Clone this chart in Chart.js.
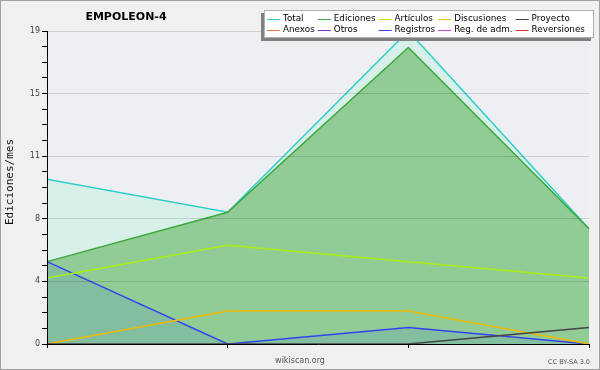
<!DOCTYPE html>
<html>
<head>
<meta charset="utf-8">
<script src="https://cdn.jsdelivr.net/npm/chart.js@4"></script>
<style>
  body { margin: 0; background: #f0f0f0; }
  canvas { display: block; }
</style>
</head>
<body>
<canvas id="chart" width="600" height="370"></canvas>
<script>
// months shown on the x axis (labels are not printed in the picture)
const months = ['mes 1', 'mes 2', 'mes 3', 'mes 4'];

const total = [10, 8, 19, 7];
const ediciones = [5, 8, 18, 7];
const articulos = [4, 6, 5, 4];
const discusiones = [0, 2, 2, 0];
const proyecto = [0, 0, 0, 1];
const anexos = [null, null, null, null];
const otros = [null, null, null, null];
const registros = [5, 0, 1, 0];
const regAdm = [null, null, null, null];
const reversiones = [null, null, null, null];

const yMax = 19;
const yTickLabels = ['0', '4', '8', '11', '15', '19'];

const SANS = "'DejaVu Sans', sans-serif";

function line(label, data, color, order, fill) {
    return {
        label: label,
        data: data,
        borderColor: color,
        backgroundColor: fill || 'rgba(0,0,0,0)',
        fill: fill ? 'origin' : false,
        borderWidth: 1.5,
        pointRadius: 0,
        tension: 0,
        order: order
    };
}

const datasets = [
    line('Total', total, '#2fcfc8', 10, '#d9f0ea'),
    line('Ediciones', ediciones, '#3aaa3a', 9, '#91cb96'),
    line('Artículos', articulos, '#aaee11', 7),
    line('Discusiones', discusiones, '#f0b800', 6),
    line('Proyecto', proyecto, '#444444', 5),
    line('Anexos', anexos, '#ee7733', 4),
    line('Otros', otros, '#7733cc', 3),
    line('Registros', registros, '#3344ee', 8, 'rgba(40,100,240,0.12)'),
    line('Reg. de adm.', regAdm, '#cc44dd', 2),
    line('Reversiones', reversiones, '#dd3333', 1)
];

// backgrounds, title, footer texts and the boxed legend
const decor = {
    id: 'decor',
    beforeDraw(chart) {
        const c = chart.ctx, a = chart.chartArea;
        c.save();
        c.fillStyle = '#f0f0f0';
        c.fillRect(0, 0, chart.width, chart.height);
        c.fillStyle = '#eeeff2';
        c.fillRect(a.left, a.top, a.right - a.left, a.bottom - a.top);
        c.restore();
    },
    afterDraw(chart) {
        const c = chart.ctx;
        c.save();
        c.strokeStyle = '#a0a0a0';
        c.lineWidth = 1;
        c.strokeRect(0.5, 0.5, chart.width - 1, chart.height - 1);

        c.fillStyle = '#000';
        c.font = 'bold 11px ' + SANS;
        c.textAlign = 'center';
        c.textBaseline = 'middle';
        c.fillText('EMPOLEON-4', 126, 17);

        c.save();
        c.translate(10, 182);
        c.rotate(-Math.PI / 2);
        c.font = "11px 'DejaVu Sans Mono', monospace";
        c.fillStyle = '#111';
        c.fillText('Ediciones/mes', 0, 0);
        c.restore();

        c.fillStyle = '#555';
        c.font = '8px ' + SANS;
        c.fillText('wikiscan.org', 300, 361);
        c.textAlign = 'right';
        c.font = '6.5px ' + SANS;
        c.fillText('CC BY-SA 3.0', 590, 362);

        // legend box
        const bx = 264, by = 10, bw = 330, bh = 28;
        c.fillStyle = '#808080';
        c.fillRect(bx - 3, by + 3, bw, bh);
        c.fillStyle = '#fff';
        c.fillRect(bx, by, bw, bh);
        c.strokeStyle = '#b0b0b0';
        c.strokeRect(bx + 0.5, by + 0.5, bw - 1, bh - 1);

        c.font = '8.8px ' + SANS;
        c.textAlign = 'left';
        const ds = chart.data.datasets;
        const cols = 5;
        let x = bx + 3;
        for (let col = 0; col < cols; col++) {
            let w = 0;
            for (let row = 0; row < 2; row++) {
                const d = ds[row * cols + col];
                const y = by + 9 + row * 10.5;
                c.strokeStyle = d.borderColor;
                c.lineWidth = 1;
                c.beginPath();
                c.moveTo(x, Math.round(y) + 0.5);
                c.lineTo(x + 13, Math.round(y) + 0.5);
                c.stroke();
                c.fillStyle = '#000';
                c.fillText(d.label, x + 16, y);
                w = Math.max(w, c.measureText(d.label).width);
            }
            x += 16 + w + 3;
        }
        c.restore();
    }
};

const config = {
    type: 'line',
    data: { labels: months, datasets: datasets },
    options: {
        responsive: false,
        animation: false,
        layout: { padding: { top: 31, right: 11, left: 0, bottom: 0 } },
        plugins: {
            legend: { display: false },
            tooltip: { enabled: false }
        },
        scales: {
            x: {
                type: 'category',
                offset: false,
                ticks: { display: false },
                grid: {
                    drawOnChartArea: false,
                    drawTicks: true,
                    tickLength: 4,
                    tickColor: '#000',
                    z: 1
                },
                border: { color: '#000', width: 1, z: 1 },
                afterFit: function(scale) { scale.height = 26; }
            },
            y: {
                min: 0,
                max: yMax,
                afterBuildTicks: function(scale) {
                    const ticks = [];
                    for (let i = 0; i <= 20; i++) ticks.push({ value: i * yMax / 20 });
                    scale.ticks = ticks;
                },
                ticks: {
                    autoSkip: false,
                    padding: 2,
                    color: '#444',
                    font: { family: SANS, size: 8 },
                    callback: function(v, i) { return i % 4 === 0 ? yTickLabels[i / 4] : ''; }
                },
                grid: {
                    color: function(ctx) { return ctx.index % 4 === 0 ? 'rgba(0,0,0,0.13)' : 'rgba(0,0,0,0)'; },
                    tickColor: '#000',
                    tickLength: 5,
                    z: 1
                },
                border: { color: '#000', width: 1, z: 1 },
                afterFit: function(scale) { scale.width = 47; }
            }
        }
    },
    plugins: [decor]
};

window.onload = function() {
    const ctx = document.getElementById('chart').getContext('2d');
    new Chart(ctx, config);
};
</script>
</body>
</html>
